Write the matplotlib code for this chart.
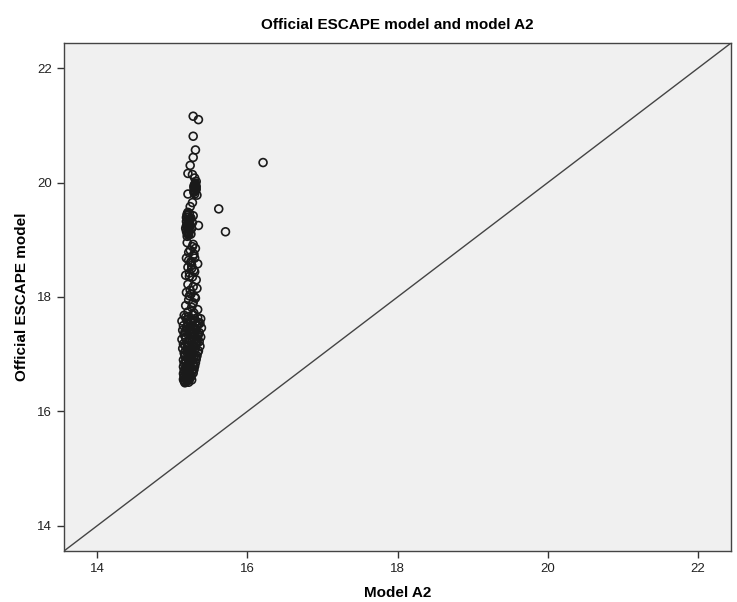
import matplotlib
matplotlib.use("Agg")
import matplotlib.pyplot as plt

plt.rcParams['font.family'] = ['Liberation Sans', 'DejaVu Sans']

# model A2 (x) vs official ESCAPE model (y)
model_a2 = [
    # sparse top
    15.28, 15.35, 15.28, 15.31, 15.28, 15.24, 15.21, 15.27, 15.30, 15.32,
    15.30, 15.31, 15.32, 15.29, 15.21, 15.30, 15.33, 15.27, 15.24,
    15.29, 15.31, 15.30, 15.32, 15.29, 15.31, 15.30, 15.31, 15.29,
    # 19.5 - 19.0
    15.20, 15.22, 15.25, 15.19, 15.23, 15.21, 15.26, 15.19, 15.22, 15.25,
    15.20, 15.35, 15.28, 15.27, 15.18, 15.24,
    15.21, 15.23, 15.20, 15.22, 15.24, 15.19, 15.21, 15.23, 15.20, 15.22,
    15.21, 15.19, 15.22, 15.20, 15.23, 15.21,
    # 19.0 - 18.3
    15.20, 15.27, 15.31, 15.22, 15.28, 15.19, 15.25, 15.34, 15.21, 15.29,
    15.23, 15.18, 15.27, 15.32, 15.26, 15.30,
    15.24, 15.29, 15.22, 15.26, 15.30, 15.23, 15.28, 15.25,
    # 18.25 - 17.72
    15.21, 15.28, 15.33, 15.19, 15.25, 15.30, 15.22, 15.28, 15.18, 15.26,
    15.34, 15.21, 15.29, 15.24, 15.31, 15.27, 15.23,
    # dense lower band
    15.16, 15.22, 15.28, 15.34, 15.38, 15.13, 15.19, 15.25, 15.31, 15.37,
    15.15, 15.21, 15.27, 15.33, 15.39, 15.14, 15.20, 15.26, 15.32, 15.36,
    15.16, 15.23, 15.29, 15.35, 15.38, 15.13, 15.18, 15.24, 15.30, 15.36,
    15.15, 15.21, 15.27, 15.33, 15.37, 15.14, 15.20, 15.26, 15.31, 15.35,
    15.16, 15.22, 15.28, 15.34, 15.17, 15.23, 15.29, 15.33,
    15.15, 15.21, 15.27, 15.32, 15.16, 15.22, 15.28, 15.31,
    15.18, 15.24, 15.30, 15.36, 15.19, 15.25, 15.31, 15.35,
    15.17, 15.23, 15.29, 15.34, 15.18, 15.24, 15.30, 15.33,
    15.17, 15.22, 15.28, 15.32, 15.18, 15.25, 15.30,
    15.20, 15.26, 15.32, 15.19, 15.27, 15.33, 15.21, 15.29,
    15.20, 15.26, 15.31, 15.19, 15.24, 15.28, 15.22, 15.27,
    15.15, 15.20, 15.25, 15.30, 15.16, 15.21, 15.26, 15.29,
    15.17, 15.23, 15.28, 15.18, 15.24, 15.27,
    15.19, 15.22, 15.25, 15.20, 15.23, 15.26, 15.18, 15.21,
    15.15, 15.19, 15.24, 15.28, 15.16, 15.20, 15.25, 15.15, 15.19, 15.23,
    15.17, 15.22, 15.26, 15.18, 15.21, 15.24,
    15.16, 15.20, 15.17, 15.19, 15.22, 15.18,
    15.17, 15.20, 15.23, 15.16, 15.19, 15.21,
    # outliers
    16.21, 15.62, 15.71,
]
official_escape = [
    21.16, 21.10, 20.81, 20.57, 20.44, 20.30, 20.16, 20.14, 20.08, 20.02,
    19.97, 19.92, 19.88, 19.85, 19.80, 19.80, 19.78, 19.65, 19.58,
    19.94, 19.90, 19.86, 19.93, 19.83, 19.99, 19.87, 19.96, 19.91,
    19.45, 19.40, 19.38, 19.32, 19.28, 19.22, 19.20, 19.15, 19.12, 19.10,
    19.06, 19.25, 19.42, 19.30, 19.20, 19.17,
    19.48, 19.35, 19.26, 19.18, 19.36, 19.24, 19.14, 19.33, 19.43, 19.08,
    19.29, 19.39, 19.21, 19.11, 19.46, 19.34,
    18.95, 18.88, 18.85, 18.78, 18.72, 18.68, 18.62, 18.58, 18.52, 18.47,
    18.42, 18.38, 18.35, 18.30, 18.55, 18.68,
    18.82, 18.75, 18.64, 18.50, 18.44, 18.36, 18.92, 18.60,
    18.22, 18.18, 18.15, 18.08, 18.05, 18.00, 17.95, 17.90, 17.85, 17.82,
    17.78, 17.74, 17.72, 18.12, 17.98, 17.88, 18.02,
    17.68, 17.66, 17.69, 17.64, 17.62, 17.58, 17.60, 17.56, 17.57, 17.54,
    17.50, 17.52, 17.48, 17.51, 17.46, 17.42, 17.44, 17.40, 17.43, 17.38,
    17.34, 17.36, 17.33, 17.35, 17.30, 17.26, 17.28, 17.25, 17.27, 17.22,
    17.18, 17.20, 17.17, 17.19, 17.14, 17.10, 17.12, 17.09, 17.11, 17.06,
    17.02, 17.04, 17.01, 17.03, 16.96, 16.98, 16.95, 16.97,
    16.90, 16.92, 16.89, 16.91, 16.84, 16.86, 16.83, 16.85,
    17.65, 17.59, 17.62, 17.55, 17.47, 17.49, 17.45, 17.53,
    17.39, 17.41, 17.37, 17.31, 17.29, 17.23, 17.32, 17.24,
    17.16, 17.15, 17.13, 17.21, 17.07, 17.08, 17.05,
    17.61, 17.58, 17.50, 17.41, 17.36, 17.28, 17.20, 17.13,
    17.03, 16.99, 16.94, 16.88, 16.90, 16.82, 16.79, 16.73,
    16.78, 16.80, 16.77, 16.79, 16.72, 16.74, 16.71, 16.73,
    16.99, 16.93, 16.94, 16.87, 16.88, 16.81,
    16.69, 16.66, 16.63, 16.60, 16.58, 16.55, 16.85, 16.76,
    16.66, 16.68, 16.65, 16.67, 16.60, 16.62, 16.61, 16.56, 16.58, 16.57,
    16.70, 16.64, 16.69, 16.75, 16.63, 16.59,
    16.53, 16.54, 16.52, 16.55, 16.51, 16.76,
    16.50, 16.53, 16.57, 16.62, 16.68, 16.71,
    20.35, 19.54, 19.14,
]

lo, hi = 13.56, 22.44
ticks = [14, 16, 18, 20, 22]

fig = plt.figure(figsize=(7.37, 6.02), dpi=100)
ax = fig.add_axes([0.0868, 0.0847, 0.9052, 0.8439])
ax.set_facecolor('#f0f0f0')

# reference line y = x
ax.plot([lo, hi], [lo, hi], color='#444444', lw=1.0, zorder=1)
ax.scatter(model_a2, official_escape, s=32, facecolors='none',
           edgecolors='#1a1a1a', linewidths=1.2, zorder=2)

ax.set_xlim(lo, hi)
ax.set_ylim(lo, hi)
ax.set_xticks(ticks)
ax.set_yticks(ticks)
ax.tick_params(direction='out', length=5, width=1, colors='#333333',
               labelsize=9.5, labelcolor='#222222')
for sp in ax.spines.values():
    sp.set_color('#444444')
    sp.set_linewidth(1.0)

ax.set_xlabel('Model A2', fontsize=11, fontweight='bold', labelpad=8)
ax.set_ylabel('Official ESCAPE model', fontsize=11, fontweight='bold', labelpad=6)
ax.set_title('Official ESCAPE model and model A2', fontsize=11,
             fontweight='bold', pad=10)

fig.savefig('out.png', dpi=100)
